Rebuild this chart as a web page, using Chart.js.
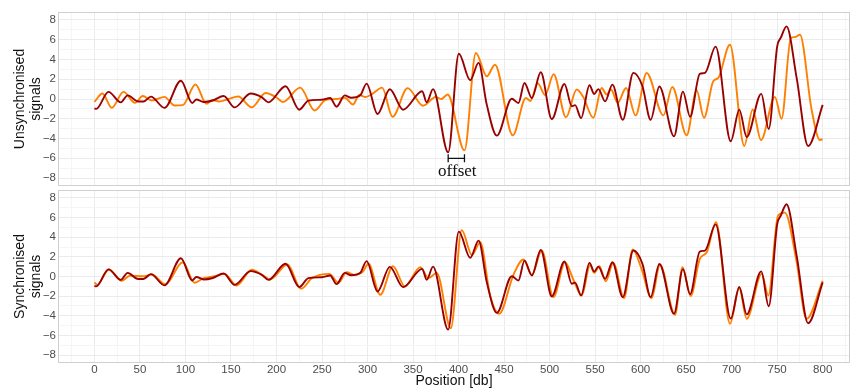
<!DOCTYPE html>
<html>
<head>
<meta charset="utf-8">
<script src="https://cdn.jsdelivr.net/npm/chart.js@4.4.1/dist/chart.umd.min.js"></script>
<style>
  html, body { margin: 0; padding: 0; background: #fff; }
  #wrap { position: relative; width: 851px; height: 390px; overflow: hidden; }
  canvas { position: absolute; left: 0; }
  #unsync { top: 0; }
  #sync { top: 188px; }
</style>
</head>
<body>
<div id="wrap">
  <canvas id="unsync" width="851" height="190"></canvas>
  <canvas id="sync" width="851" height="202"></canvas>
</div>
<script>
// axis breaks
const xMajorTicks = [0, 50, 100, 150, 200, 250, 300, 350, 400, 450, 500, 550, 600, 650, 700, 750, 800];
const yMajorTicks = [-8, -6, -4, -2, 0, 2, 4, 6, 8];

// reference signal (dark red), same in both panels
const redPos = [0, 2, 15.5, 29, 36.5, 48, 54, 62, 77, 95, 107.5, 112, 120, 130, 142, 154, 171.5, 184, 191, 210,
  225, 235, 250, 259, 266, 275, 282, 292, 299, 311, 324.5, 339, 360, 365, 372, 388.6, 400.3, 412.8, 422, 431,
  442, 458.5, 465.8, 472.4, 480.5, 490.3, 502.4, 516.3, 524.4, 528, 534.6, 543.8, 549, 553.6, 561, 569, 580.4, 592, 602, 611,
  620.6, 636.7, 646.5, 654.3, 665, 670.7, 682.4, 699, 708.4, 716.5, 732.5, 740.7, 750, 754, 760.3, 771.4, 784, 800];
const redVal = [-0.95, -1.0, 0.72, -0.34, 0.37, -0.25, -0.25, 0.24, -0.9, 1.85, -0.4, -0.05, -0.3, -0.15, 0.3, -0.85, 0.55, 0.17, -0.34, 1.29,
  -1.08, -0.17, -0.07, 0.1, -0.78, 0.37, 0.12, 0.37, 1.56, -1.52, 0.98, -1.08, 0.78, -0.34, 1.0, -5.4, 4.57, 1.9, 3.65, -0.57,
  -3.7, 0.03, -0.4, 1.62, 0.1, 2.7, -2.03, 1.52, -0.74, -0.62, -1.93, 1.39, 0.5, 1.0, -0.24, 1.45, -2.1, 2.64, 1.29, -2.1,
  1.27, -3.78, 0.75, -1.8, 2.54, 2.64, 5.3, -4.28, -1.07, -3.85, 0.52, -3.03, 5.3, 6.2, 7.35, 2.13, -4.75, -0.6];

// second signal before alignment
const orangeRawPos = [0, 8.8, 19, 32, 44.6, 53, 63, 77, 88, 97, 111, 123, 130, 137, 147, 158, 172.7, 188, 200, 207,
  226, 242, 253.6, 266, 275, 284, 291, 298, 305, 316, 327.5, 344, 361, 375, 381, 388, 406.5, 419, 431, 440,
  459.5, 474, 479, 487, 495, 504.5, 518, 529.8, 537, 548, 557.2, 562.7, 567.5, 574.8, 584, 594.5, 606.6, 625, 634.8, 650.6,
  661.5, 669.6, 679.8, 685.3, 698.1, 713.9, 723, 732.2, 747.5, 754.8, 765, 769.5, 775, 787.8, 796.9, 800];
const orangeRawVal = [-0.3, 0.55, -0.89, 0.72, -0.39, 0.3, -0.15, 0.22, -0.65, -0.62, 1.46, -0.49, -0.1, -0.25, 0.0, 0.25, -0.85, 0.6, 0.15, -0.3,
  1.15, -1.16, -0.12, 0.0, 0.12, -0.55, 0.4, 0.2, 0.5, 1.15, -1.8, 1.1, -0.68, 0.2, 0.0, 0.45, -5.2, 4.65, 2.3, 3.47,
  -3.67, 0.1, -0.2, 1.6, 0.4, 2.5, -1.85, 0.96, 0.2, -1.9, 1.12, 0.45, 0.96, -0.39, 1.12, -1.66, 2.63, -1.66, 1.22, -3.67,
  0.89, -1.9, 1.8, 2.13, 5.49, -4.75, -1.06, -4.14, 0.22, -2.0, 6.16, 6.26, 6.5, -1.06, -4.14, -4.07];

// second signal after alignment
const orangeSyncPos = [0, 3, 16, 30, 39, 54, 63, 78, 97, 110, 120, 132, 143, 156, 173, 185, 193, 212, 227, 239,
  258, 268, 277, 286, 295, 301, 314, 328, 341, 358, 367, 376, 391.5, 403.5, 414.6, 423.8, 434.7, 444.6, 460.3, 471.3,
  480.5, 491.4, 504.2, 517, 526, 535.4, 544.5, 549, 554.7, 561.7, 570, 581.8, 591.3, 601, 612, 621.3, 637.8, 646, 655, 665,
  672.6, 682.8, 698.2, 708.4, 716.5, 733, 740.3, 751, 758.5, 771, 782.3, 800];
const orangeSyncVal = [-0.6, -0.85, 0.71, -0.44, 0.08, 0.02, 0.2, -0.78, 1.45, -0.64, -0.17, 0.03, 0.27, -0.91, 0.68, 0.12, -0.3, 1.22, -1.25, -0.17,
  0.27, -0.64, 0.44, 0.17, 0.5, 1.29, -1.86, 1.05, -1.0, 0.95, -0.17, 0.37, -5.25, 4.72, 2.2, 3.49, -1.93, -3.79, 0.17, 1.73,
  0.17, 2.64, -2.1, 1.45, -0.3, -1.93, 1.18, 0.37, 1.05, -0.5, 1.39, -2.2, 2.74, 0.78, -2.2, 1.18, -3.89, 0.95, -2.0, 1.8,
  2.47, 5.52, -4.8, -1.18, -4.3, 0.27, -1.93, 6.2, 6.5, 1.7, -4.3, -0.45];

// offset bracket between the two minima
const offsetStart = 388.6;
const offsetEnd = 406.5;
const offsetLevel = -6.0;
const offsetTextLevel = -7.8;

const RED = '#990000';
const ORANGE = '#ff7f00';
const MAJOR_GRID = '#ebebeb';
const MINOR_GRID = '#f5f5f5';

function toPoints(pos, val) {
  return pos.map((x, i) => ({ x: x, y: val[i] }));
}

function lineSet(label, pos, val, color) {
  return {
    label: label,
    data: toPoints(pos, val),
    borderColor: color,
    borderWidth: 1.9,
    pointRadius: 0,
    fill: false,
    cubicInterpolationMode: 'monotone'
  };
}

function fmtY(v) {
  return v < 0 ? '\u2212' + Math.abs(v) : String(v);
}

const panelBorder = {
  id: 'panelBorder',
  afterDraw(chart) {
    const { ctx, chartArea: a } = chart;
    ctx.save();
    ctx.strokeStyle = '#d0d0d0';
    ctx.lineWidth = 1;
    ctx.strokeRect(a.left + 0.5, a.top + 0.5, a.right - a.left - 1, a.bottom - a.top - 1);
    ctx.restore();
  }
};

const offsetMarker = {
  id: 'offsetMarker',
  afterDatasetsDraw(chart) {
    const { ctx, scales } = chart;
    const x0 = scales.x.getPixelForValue(offsetStart);
    const x1 = scales.x.getPixelForValue(offsetEnd);
    const yb = scales.y.getPixelForValue(offsetLevel);
    ctx.save();
    ctx.strokeStyle = '#111';
    ctx.lineWidth = 1.3;
    ctx.beginPath();
    ctx.moveTo(x0, yb); ctx.lineTo(x1, yb);
    ctx.moveTo(x0, yb - 4); ctx.lineTo(x0, yb + 4);
    ctx.moveTo(x1, yb - 4); ctx.lineTo(x1, yb + 4);
    ctx.stroke();
    ctx.font = '17px "Liberation Serif", serif';
    ctx.fillStyle = '#111';
    ctx.textAlign = 'center';
    ctx.textBaseline = 'alphabetic';
    ctx.fillText('offset', (x0 + x1) / 2 + 1, scales.y.getPixelForValue(offsetTextLevel));
    ctx.restore();
  }
};

function makePanel(canvasId, datasets, yTitle, showX, padTop, xHeight, extraPlugins) {
  return new Chart(document.getElementById(canvasId), {
    type: 'line',
    data: { datasets: datasets },
    plugins: [panelBorder].concat(extraPlugins),
    options: {
      responsive: false,
      animation: false,
      events: [],
      layout: { padding: { top: padTop, right: 1, left: 0, bottom: 0 } },
      plugins: { legend: { display: false }, tooltip: { enabled: false } },
      scales: {
        x: {
          type: 'linear',
          min: -40,
          max: 830,
          afterBuildTicks(scale) {
            const t = [];
            for (let v = xMajorTicks[0] - 25; v <= xMajorTicks[xMajorTicks.length - 1] + 25; v += 25) t.push({ value: v });
            scale.ticks = t;
          },
          afterFit(scale) {
            scale.height = xHeight;
            scale.paddingLeft = 0;
            scale.paddingRight = 0;
          },
          grid: {
            drawTicks: false,
            color: c => (xMajorTicks.includes(c.tick.value) ? MAJOR_GRID : MINOR_GRID),
            lineWidth: 1
          },
          border: { display: false },
          ticks: {
            display: showX,
            autoSkip: false,
            maxRotation: 0,
            padding: 0,
            color: '#4d4d4d',
            font: { family: '"Liberation Sans", Arial, sans-serif', size: 11.5 },
            callback: v => (xMajorTicks.includes(v) ? String(v) : '')
          },
          title: {
            display: showX,
            text: 'Position [db]',
            color: '#111',
            padding: { top: 0, bottom: 0 },
            font: { family: '"Liberation Sans", Arial, sans-serif', size: 14 }
          }
        },
        y: {
          min: -8.8,
          max: 8.8,
          afterBuildTicks(scale) {
            const t = [];
            for (let v = yMajorTicks[0]; v <= yMajorTicks[yMajorTicks.length - 1]; v += 1) t.push({ value: v });
            scale.ticks = t;
          },
          afterFit(scale) {
            scale.width = 58;
            scale.paddingTop = 0;
            scale.paddingBottom = 0;
          },
          grid: {
            drawTicks: false,
            color: c => (yMajorTicks.includes(c.tick.value) ? MAJOR_GRID : MINOR_GRID),
            lineWidth: 1
          },
          border: { display: false },
          ticks: {
            autoSkip: false,
            padding: 2,
            color: '#4d4d4d',
            font: { family: '"Liberation Sans", Arial, sans-serif', size: 11.5 },
            callback: v => (yMajorTicks.includes(v) ? fmtY(v) : '')
          },
          title: {
            display: true,
            text: yTitle,
            color: '#111',
            padding: { top: 12, bottom: 0 },
            font: { family: '"Liberation Sans", Arial, sans-serif', size: 14, lineHeight: 1.15 }
          }
        }
      }
    }
  });
}

makePanel('unsync', [
  lineSet('reference', redPos, redVal, RED),
  lineSet('signal', orangeRawPos, orangeRawVal, ORANGE)
], ['Unsynchronised', 'signals'], false, 12, 4, [offsetMarker]);

makePanel('sync', [
  lineSet('reference', redPos, redVal, RED),
  lineSet('signal', orangeSyncPos, orangeSyncVal, ORANGE)
], ['Synchronised', 'signals'], true, 2, 27, []);
</script>
</body>
</html>
